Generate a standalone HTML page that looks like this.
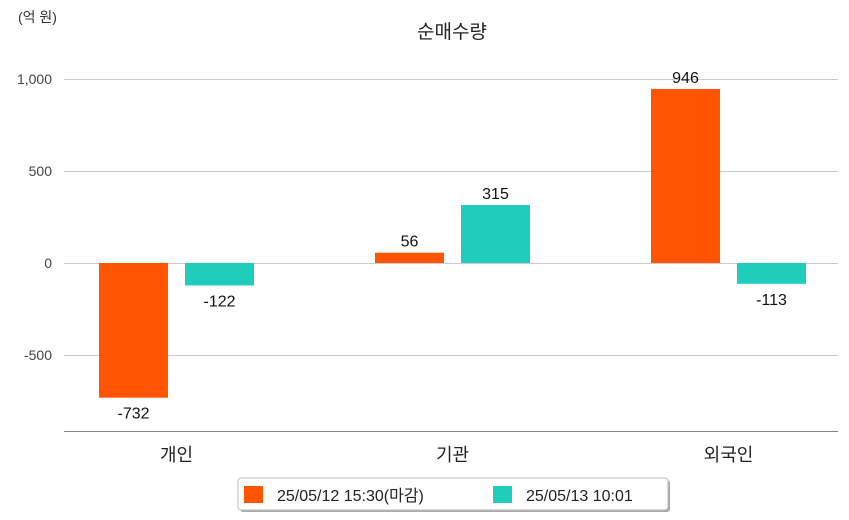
<!DOCTYPE html>
<html><head><meta charset="utf-8"><style>
html,body{margin:0;padding:0;background:#fff;}
svg{display:block;font-family:"Liberation Sans","Noto Sans CJK KR",sans-serif;}
</style></head><body>
<svg id="chart" width="849" height="520" viewBox="0 0 849 520">
<text x="18" y="22" font-size="14" fill="#333">(억 원)</text>
<text x="452" y="38" font-size="19" fill="#222" text-anchor="middle">순매수량</text>
<g id="grid"></g><g id="bars"></g>
<line x1="64" y1="431.5" x2="838" y2="431.5" stroke="#888" stroke-width="1"/>
<g>
<rect x="240" y="480" width="430" height="32" rx="3" fill="#aaa"/>
<rect x="238" y="478" width="430" height="32" rx="3" fill="#fff" stroke="#bbb"/>
<rect x="244" y="486" width="19" height="17" fill="#ff5500"/>
<text x="277" y="501" font-size="16" fill="#222">25/05/12 15:30(마감)</text>
<rect x="493" y="486" width="19" height="17" fill="#1ecdbb"/>
<text x="526" y="501" font-size="16" fill="#222">25/05/13 10:01</text>
</g>
</svg>
<script>
const categories=["개인","기관","외국인"];
const series1=[-732,56,946];
const series2=[-122,315,-113];
const ticks=[1000,500,0,-500];
const tickLabels=["1,000","500","0","-500"];
const colors=["#ff5500","#1ecdbb"];
const NS="http://www.w3.org/2000/svg";
const y=v=>263-v*92/500;
const x=i=>176.5+i*276;
const grid=document.getElementById("grid"),bars=document.getElementById("bars");
function mk(tag,attrs,parent){const e=document.createElementNS(NS,tag);for(const k in attrs)e.setAttribute(k,attrs[k]);parent.appendChild(e);return e;}
ticks.forEach((t,i)=>{
 const l=mk("line",{x1:64,x2:838,y1:Math.round(y(t))+0.5,y2:Math.round(y(t))+0.5,stroke:"#ccc"},grid);
 
 
 const tx=mk("text",{x:52,y:y(t)+5,"font-size":14,fill:"#444","text-anchor":"end"},grid);
 tx.textContent=tickLabels[i];
 
 
});
categories.forEach((c,i)=>{
 const t=mk("text",{x:x(i),y:461,"font-size":18,fill:"#222","text-anchor":"middle"},bars);
 t.textContent=c;
 
 
 [series1,series2].forEach((s,j)=>{
  const v=s[i],cx=x(i)+(j?43:-43);
  const top=Math.min(y(v),y(0)),h=Math.abs(y(v)-y(0));
  const r=mk("rect",{x:cx-34.5,y:top,width:69,height:Math.max(h,1),fill:colors[j]},bars);
  
  
  const lb=mk("text",{x:cx,y:v>=0?y(v)-6:y(v)+21,"font-size":16,fill:"#111","text-anchor":"middle"},bars);
  lb.textContent=v;
  
  
 });
});
</script>
</body></html>
